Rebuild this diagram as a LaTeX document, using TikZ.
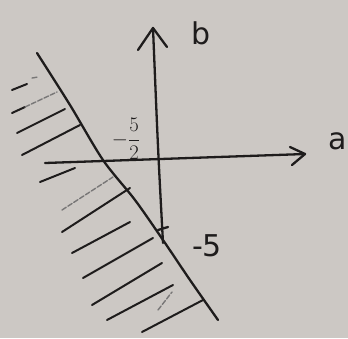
\documentclass[tikz,border=0pt]{standalone}
\usepackage{fontspec}
\newfontfamily\hand{DejaVu Sans}
\definecolor{paper}{RGB}{204,200,196}
\definecolor{ink}{RGB}{30,28,28}
\begin{document}
\begin{tikzpicture}[x=1pt,y=-1pt,
  pen/.style={draw=ink,line width=2.3pt,line cap=round,line join=round},
  hatch/.style={draw=ink,line width=2pt,line cap=round},
  faint/.style={draw=ink!60,line width=1.4pt,line cap=round,dash pattern=on 5pt off 2pt},
  lbl/.style={text=ink,font=\hand\fontsize{30}{30}\selectfont,inner sep=0pt}]
\fill[paper] (0,0) rectangle (348,338);
\useasboundingbox (0,0) rectangle (348,338);
% axes
\coordinate (aL) at (45,163);
\coordinate (aR) at (305,154);
\coordinate (bB) at (163,243);
\coordinate (bT) at (153,28);
\draw[pen] (aL) -- (aR);
\draw[pen] (290,147) -- (aR) -- (292,165);
\draw[pen] (bB) .. controls (158,150) .. (bT);
\draw[pen] (138,50) -- (bT) -- (167,47);
% tick at -5
\draw[pen] (158,230) -- (168,227);
% boundary line
\draw[pen] plot[smooth] coordinates {(37,53) (70,105) (103,160) (135,200) (163,240) (190,280) (218,320)};
% hatching
\draw[hatch] (12,90) -- (27,84);
\draw[faint] (32,78) -- (38,77);
\draw[hatch] (12,113) -- (25,107);
\draw[faint] (25,107) -- (57,92);
\draw[hatch] (17,133) -- (65,109);
\draw[hatch] (22,155) -- (80,125);
\draw[hatch] (40,182) -- (75,168);
\draw[faint] (62,210) -- (113,177);
\draw[hatch] (62,232) -- (130,188);
\draw[hatch] (72,253) -- (130,222);
\draw[hatch] (83,278) -- (153,238);
\draw[hatch] (92,305) -- (162,263);
\draw[hatch] (107,320) -- (173,285);
\draw[hatch] (142,332) -- (203,300);
\draw[faint] (158,310) -- (172,292);
% labels
\node[lbl] (b) at (201,33) {b};
\node[lbl,anchor=east] (a) at (347,141) {a};
\node[lbl] (m5) at (207,246) {-5};
\node[text=ink,inner sep=0pt,font=\fontsize{21}{21}\selectfont] (frac) at (126,139) {$\displaystyle -\frac{5}{2}$};
\end{tikzpicture}
\end{document}
